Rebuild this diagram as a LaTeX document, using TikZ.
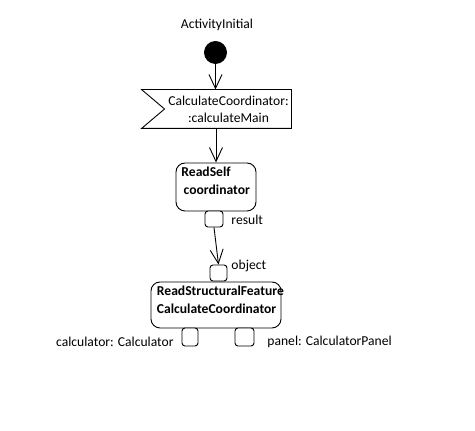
\documentclass[tikz,border=0pt]{standalone}
\usepackage{fontspec}
\setmainfont{Carlito}
\usetikzlibrary{arrows.meta,calc}
\begin{document}
\begin{tikzpicture}[x=1pt,y=1pt,
  line width=0.9pt,
  every node/.style={font=\fontsize{13.6}{17}\selectfont},
  flow/.style={-{Straight Barb[length=14pt,width=13pt,line width=0.9pt]}},
  actbox/.style={draw,rounded corners=9pt,fill=white,inner sep=0pt},
  pinbox/.style={draw,rounded corners=3pt,fill=white,inner sep=0pt},
  lbl/.style={inner sep=0pt},
  bold/.style={font=\fontsize{13.6}{18}\selectfont\bfseries,align=left,inner sep=0pt}]
\useasboundingbox (0,0) rectangle (475,431);
\fill[white] (0,0) rectangle (475,431);

% initial node
\node[lbl] (initlbl) at (217,406) {ActivityInitial};
\node[circle,fill=black,draw,minimum size=22pt,inner sep=0pt] (init) at (215.5,378.5) {};

% accept event (flag)
\node[minimum width=149pt,minimum height=38pt,inner sep=0pt] (accept) at (216.5,322) {};
\draw (accept.north west) -- (accept.north east) -- (accept.south east) -- (accept.south west)
  -- ($(accept.west)+(23,0)$) -- cycle;
\node[lbl,align=center] (accepttext) at (228.5,322) {CalculateCoordinator:\\:calculateMain};

% ReadSelf
\node[actbox,minimum width=80pt,minimum height=48pt] (readself) at (216,244) {};
\node[bold,anchor=north west] (readselftext) at (181,264) {ReadSelf\\\,coordinator};
\node[pinbox,minimum width=18pt,minimum height=16pt] (result) at (214,212) {};
\node[lbl,anchor=west] (resultlbl) at (231,211) {result};

% ReadStructuralFeature
\node[actbox,minimum width=130pt,minimum height=46pt] (rsf) at (216,126) {};
\node[bold,anchor=north west] (rsftext) at (156.5,145) {ReadStructuralFeature\\CalculateCoordinator};
\node[pinbox,minimum width=17pt,minimum height=16pt] (object) at (218.5,158) {};
\node[lbl,anchor=west] (objectlbl) at (231,165) {object};
\node[pinbox,minimum width=16pt,minimum height=18pt] (calcpin) at (190,94) {};
\node[pinbox,minimum width=19pt,minimum height=18pt] (panelpin) at (244.5,94) {};
\node[lbl,anchor=east] (calclbl) at (174,89) {calculator: Calculator};
\node[lbl,anchor=west] (panellbl) at (267,89) {panel: CalculatorPanel};

% flows
\draw[flow] (init.south) -- (init |- accept.north);
\draw[flow] (accept.south -| readself.north) -- (readself.north);
\draw[flow] (result.south) -- (object.north);
\end{tikzpicture}
\end{document}
